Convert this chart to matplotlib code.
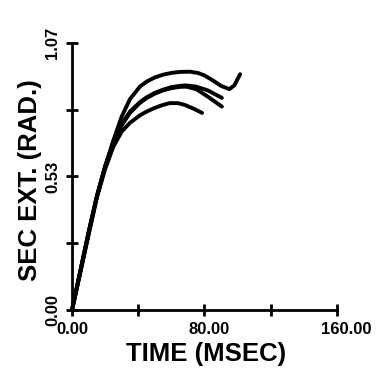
import numpy as np
from matplotlib import pyplot as plt
from matplotlib import transforms

# secondary extension traces (rad) vs time (msec)
t_top = [0, 5, 10, 15, 20, 25, 30, 35, 41, 45, 50, 55, 60, 65, 71, 76, 80, 85, 90, 95, 98, 101.5]
v_top = [0, 0.155, 0.31, 0.455, 0.575, 0.68, 0.775, 0.845, 0.895, 0.915, 0.932, 0.943, 0.950, 0.954, 0.955, 0.950, 0.940, 0.920, 0.898, 0.885, 0.90, 0.945]

t_mid1 = [0, 5, 10, 15, 20, 25, 30, 35, 41, 45, 50, 55, 60, 65, 69, 75, 82, 90.5]
v_mid1 = [0, 0.155, 0.31, 0.455, 0.575, 0.672, 0.745, 0.795, 0.833, 0.852, 0.870, 0.883, 0.893, 0.898, 0.900, 0.895, 0.880, 0.850]

t_mid2 = [0, 5, 10, 15, 20, 25, 30, 35, 41, 45, 50, 55, 60, 65, 69, 75, 82, 90.5]
v_mid2 = [0, 0.155, 0.31, 0.455, 0.575, 0.670, 0.740, 0.790, 0.830, 0.849, 0.867, 0.880, 0.889, 0.894, 0.895, 0.885, 0.855, 0.815]

t_low = [0, 5, 10, 15, 20, 25, 30, 35, 41, 45, 50, 55, 59, 64, 68, 73, 78.5]
v_low = [0, 0.15, 0.30, 0.45, 0.565, 0.655, 0.715, 0.750, 0.780, 0.795, 0.810, 0.822, 0.829, 0.829, 0.822, 0.808, 0.790]

x_ticks = [0, 40, 80, 120, 160]
x_labels = ["0.00", "", "80.00", "", "160.00"]
y_ticks = [0, 0.2675, 0.535, 0.8025, 1.07]
y_labels = ["0.00", "", "0.53", "", "1.07"]

font = dict(family="Liberation Sans", weight="bold")

fig = plt.figure(figsize=(3.78, 3.77), dpi=100)
ax = fig.add_axes([0.1905, 0.1777, 0.7010, 0.7083])

for t, v in [(t_top, v_top), (t_mid1, v_mid1), (t_mid2, v_mid2), (t_low, v_low)]:
  ax.plot(t, v, color="black", lw=2.8, solid_capstyle="round",
          solid_joinstyle="round", clip_on=False)

ax.set_xlim(0, 160)
ax.set_ylim(0, 1.07)
for s in ["top", "right"]:
  ax.spines[s].set_visible(False)
for s in ["left", "bottom"]:
  ax.spines[s].set_linewidth(2.0)

ax.set_xticks(x_ticks)
ax.set_xticklabels([])
ax.set_yticks(y_ticks)
ax.set_yticklabels([])
ax.tick_params(direction="inout", length=9, width=2.0)

# plotter style tick labels: x labels start left of the tick, y labels upright
px = lambda dx, dy: transforms.ScaledTranslation(dx / 100, dy / 100, fig.dpi_scale_trans)
for x, s in zip(x_ticks, x_labels):
  ax.text(x, 0, s, transform=ax.get_xaxis_transform() + px(-16, -12),
          ha="left", va="top", fontsize=12, **font)
for y, s in zip(y_ticks, y_labels):
  ax.text(0, y, s, transform=ax.get_yaxis_transform() + px(-12, 0),
          ha="right", va="center", rotation=90, fontsize=12, **font)

fig.text(206 / 378, 1 - 354 / 377, "TIME (MSEC)", ha="center", va="center",
         fontsize=18.5, **font)
fig.text(30 / 378, 1 - 180 / 377, "SEC EXT. (RAD.)", ha="center", va="center",
         rotation=90, fontsize=18.5, **font)

fig.savefig("out.png", dpi=100)
